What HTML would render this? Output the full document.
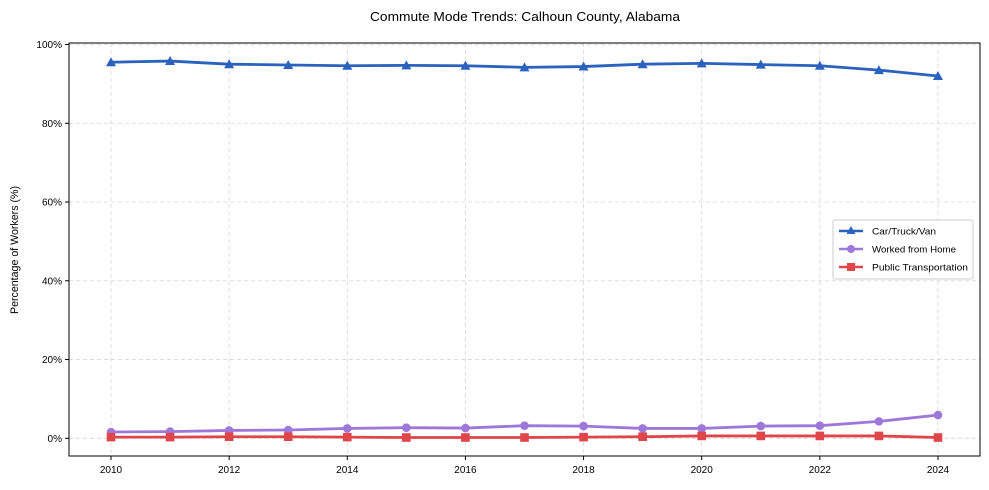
<!DOCTYPE html>
<html><head><meta charset="utf-8"><style>body{margin:0;background:#fff}svg{display:block}text{font-family:"Liberation Sans",sans-serif;fill:#000}</style></head><body>
<svg width="989" height="490" xmlns="http://www.w3.org/2000/svg" id="s">
<text x="525" y="21" font-size="13" text-anchor="middle" textLength="310" lengthAdjust="spacingAndGlyphs">Commute Mode Trends: Calhoun County, Alabama</text>
<g id="grid" stroke="#d6d6d6" stroke-dasharray="4,3" stroke-width="0.8"></g>
<g id="series"></g>
<rect x="69" y="43" width="911" height="413" fill="none" stroke="#000" stroke-width="1"/>
<g id="ticks" font-size="10"></g>
<text transform="translate(18,250) rotate(-90)" font-size="11" text-anchor="middle" textLength="128" lengthAdjust="spacingAndGlyphs">Percentage of Workers (%)</text>
<g>
<rect x="833" y="220" width="140" height="59" fill="#fff" stroke="#ccc" rx="2"/>
<line x1="839" y1="231" x2="863" y2="231" stroke="#2a62bd" stroke-width="2.5"/><path d="M851,226 L855.5,234 L846.5,234Z" fill="#2a62bd"/>
<text x="872" y="234.5" font-size="9.5" textLength="64" lengthAdjust="spacingAndGlyphs">Car/Truck/Van</text>
<line x1="839" y1="249" x2="863" y2="249" stroke="#9d78d9" stroke-width="2.5"/><circle cx="851" cy="249" r="4" fill="#9d78d9"/>
<text x="872" y="252.5" font-size="9.5" textLength="84" lengthAdjust="spacingAndGlyphs">Worked from Home</text>
<line x1="839" y1="267" x2="863" y2="267" stroke="#e0454a" stroke-width="2.5"/><rect x="847" y="263" width="8" height="8" fill="#e0454a"/>
<text x="872" y="270.5" font-size="9.5" textLength="96" lengthAdjust="spacingAndGlyphs">Public Transportation</text>
</g>
</svg>
<script>
const X=y=>111+(y-2010)*59.07, Y=v=>438.3-v*3.938;
const ns="http://www.w3.org/2000/svg";
function el(t,a,p){const e=document.createElementNS(ns,t);for(const k in a)e.setAttribute(k,a[k]);document.getElementById(p).appendChild(e);return e;}
for(let y=2010;y<=2024;y+=2){el('line',{x1:X(y),x2:X(y),y1:43,y2:456},'grid');el('line',{x1:X(y),x2:X(y),y1:456,y2:460,stroke:'#000'},'ticks');const t=el('text',{x:X(y),y:473,'text-anchor':'middle'},'ticks');t.textContent=y;}
for(let v=0;v<=100;v+=20){el('line',{x1:69,x2:980,y1:Y(v),y2:Y(v)},'grid');el('line',{x1:65,x2:69,y1:Y(v),y2:Y(v),stroke:'#000'},'ticks');const t=el('text',{x:62,y:Y(v)+3.5,'text-anchor':'end'},'ticks');t.textContent=v+'%';}
const car=[95.5,95.8,95.0,94.8,94.6,94.7,94.6,94.2,94.4,95.0,95.2,94.9,94.6,93.5,92.0];
const home=[1.6,1.7,2.0,2.1,2.5,2.7,2.6,3.2,3.1,2.5,2.5,3.1,3.2,4.3,5.9];
const pub=[0.3,0.3,0.4,0.4,0.3,0.2,0.2,0.2,0.3,0.4,0.6,0.6,0.6,0.6,0.2];
function ser(d,c,m){el('polyline',{points:d.map((v,i)=>X(2010+i)+','+Y(v)).join(' '),fill:'none',stroke:c,'stroke-width':2.8,'stroke-linejoin':'round'},'series');
d.forEach((v,i)=>{const x=X(2010+i),y=Y(v);if(m=='t')el('path',{d:`M${x},${y-5}L${x+5},${y+4}L${x-5},${y+4}Z`,fill:c},'series');else if(m=='c')el('circle',{cx:x,cy:y,r:4.3,fill:c},'series');else el('rect',{x:x-4.3,y:y-4.3,width:8.6,height:8.6,fill:c},'series');});}
ser(home,'#9d78d9','c');ser(pub,'#e0454a','s');ser(car,'#2a62bd','t');
</script>
</body></html>
